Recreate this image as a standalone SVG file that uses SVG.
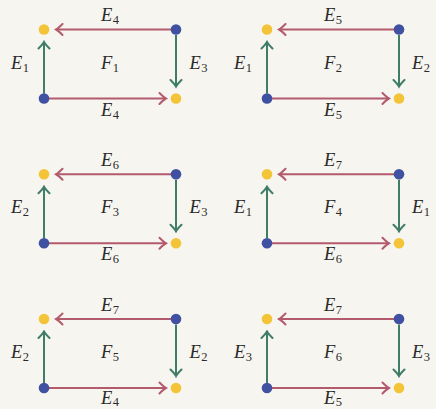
<svg xmlns="http://www.w3.org/2000/svg" width="436" height="409" viewBox="0 0 436 409">
<defs>
<style>
.bg{fill:#f7f5f0}
.b{fill:#3f51a0}
.y{fill:#f4c438}
.r{stroke:#b35a6d;stroke-width:2;fill:none}
.g{stroke:#3f7d69;stroke-width:2;fill:none}
text{font-family:"Liberation Serif","DejaVu Serif",serif;font-size:18.5px;fill:#2a2a2a;text-anchor:middle}
.m{font-style:italic}
.s{font-size:12.5px;font-style:normal}
</style>
<marker id="ar" viewBox="-8 -7 10 14" markerWidth="10" markerHeight="14" refX="0" refY="0" orient="auto" markerUnits="userSpaceOnUse">
<path d="M-6.5,-5.5 Q-2,-1 0,0 Q-2,1 -6.5,5.5" fill="none" stroke="#b35a6d" stroke-width="2" stroke-linecap="round"/>
</marker>
<marker id="ag" viewBox="-8 -7 10 14" markerWidth="10" markerHeight="14" refX="0" refY="0" orient="auto" markerUnits="userSpaceOnUse">
<path d="M-6.5,-5.5 Q-2,-1 0,0 Q-2,1 -6.5,5.5" fill="none" stroke="#3f7d69" stroke-width="2" stroke-linecap="round"/>
</marker>
</defs>
<rect class="bg" width="436" height="409"/>
<g id="connectors">
<path class="r" d="M171 29.5H56" marker-end="url(#ar)"/>
<path class="r" d="M49 98.5H166" marker-end="url(#ar)"/>
<path class="g" d="M44 93.5V42" marker-end="url(#ag)"/>
<path class="g" d="M176 35V86.5" marker-end="url(#ag)"/>
<path class="r" d="M394 29.5H279" marker-end="url(#ar)"/>
<path class="r" d="M272 98.5H389" marker-end="url(#ar)"/>
<path class="g" d="M267 93.5V42" marker-end="url(#ag)"/>
<path class="g" d="M399 35V86.5" marker-end="url(#ag)"/>
<path class="r" d="M171 174.25H56" marker-end="url(#ar)"/>
<path class="r" d="M49 243.25H166" marker-end="url(#ar)"/>
<path class="g" d="M44 238.25V186.75" marker-end="url(#ag)"/>
<path class="g" d="M176 179.75V231.25" marker-end="url(#ag)"/>
<path class="r" d="M394 174.25H279" marker-end="url(#ar)"/>
<path class="r" d="M272 243.25H389" marker-end="url(#ar)"/>
<path class="g" d="M267 238.25V186.75" marker-end="url(#ag)"/>
<path class="g" d="M399 179.75V231.25" marker-end="url(#ag)"/>
<path class="r" d="M171 319H56" marker-end="url(#ar)"/>
<path class="r" d="M49 388H166" marker-end="url(#ar)"/>
<path class="g" d="M44 383V331.5" marker-end="url(#ag)"/>
<path class="g" d="M176 324.5V376" marker-end="url(#ag)"/>
<path class="r" d="M394 319H279" marker-end="url(#ar)"/>
<path class="r" d="M272 388H389" marker-end="url(#ar)"/>
<path class="g" d="M267 383V331.5" marker-end="url(#ag)"/>
<path class="g" d="M399 324.5V376" marker-end="url(#ag)"/>
</g>
<g id="panel1">
<circle id="p1tl" class="y" cx="44" cy="29.5" r="5.3"/>
<circle id="p1tr" class="b" cx="176" cy="29.5" r="5.3"/>
<circle id="p1bl" class="b" cx="44" cy="98.5" r="5.3"/>
<circle id="p1br" class="y" cx="176" cy="98.5" r="5.3"/>
<text x="110" y="21"><tspan class="m">E</tspan><tspan class="s" dx="0.5" dy="3">4</tspan></text>
<text x="110" y="115.5"><tspan class="m">E</tspan><tspan class="s" dx="0.5" dy="3">4</tspan></text>
<text x="20" y="68.5"><tspan class="m">E</tspan><tspan class="s" dx="0.5" dy="3">1</tspan></text>
<text x="198.5" y="68.5"><tspan class="m">E</tspan><tspan class="s" dx="0.5" dy="3">3</tspan></text>
<text x="110" y="68.5"><tspan class="m">F</tspan><tspan class="s" dx="0.5" dy="3">1</tspan></text>
</g>
<g id="panel2">
<circle id="p2tl" class="y" cx="267" cy="29.5" r="5.3"/>
<circle id="p2tr" class="b" cx="399" cy="29.5" r="5.3"/>
<circle id="p2bl" class="b" cx="267" cy="98.5" r="5.3"/>
<circle id="p2br" class="y" cx="399" cy="98.5" r="5.3"/>
<text x="333" y="21"><tspan class="m">E</tspan><tspan class="s" dx="0.5" dy="3">5</tspan></text>
<text x="333" y="115.5"><tspan class="m">E</tspan><tspan class="s" dx="0.5" dy="3">5</tspan></text>
<text x="243" y="68.5"><tspan class="m">E</tspan><tspan class="s" dx="0.5" dy="3">1</tspan></text>
<text x="421" y="68.5"><tspan class="m">E</tspan><tspan class="s" dx="0.5" dy="3">2</tspan></text>
<text x="333" y="68.5"><tspan class="m">F</tspan><tspan class="s" dx="0.5" dy="3">2</tspan></text>
</g>
<g id="panel3">
<circle id="p3tl" class="y" cx="44" cy="174.25" r="5.3"/>
<circle id="p3tr" class="b" cx="176" cy="174.25" r="5.3"/>
<circle id="p3bl" class="b" cx="44" cy="243.25" r="5.3"/>
<circle id="p3br" class="y" cx="176" cy="243.25" r="5.3"/>
<text x="110" y="165.75"><tspan class="m">E</tspan><tspan class="s" dx="0.5" dy="3">6</tspan></text>
<text x="110" y="260.25"><tspan class="m">E</tspan><tspan class="s" dx="0.5" dy="3">6</tspan></text>
<text x="20" y="213.25"><tspan class="m">E</tspan><tspan class="s" dx="0.5" dy="3">2</tspan></text>
<text x="198.5" y="213.25"><tspan class="m">E</tspan><tspan class="s" dx="0.5" dy="3">3</tspan></text>
<text x="110" y="213.25"><tspan class="m">F</tspan><tspan class="s" dx="0.5" dy="3">3</tspan></text>
</g>
<g id="panel4">
<circle id="p4tl" class="y" cx="267" cy="174.25" r="5.3"/>
<circle id="p4tr" class="b" cx="399" cy="174.25" r="5.3"/>
<circle id="p4bl" class="b" cx="267" cy="243.25" r="5.3"/>
<circle id="p4br" class="y" cx="399" cy="243.25" r="5.3"/>
<text x="333" y="165.75"><tspan class="m">E</tspan><tspan class="s" dx="0.5" dy="3">7</tspan></text>
<text x="333" y="260.25"><tspan class="m">E</tspan><tspan class="s" dx="0.5" dy="3">6</tspan></text>
<text x="243" y="213.25"><tspan class="m">E</tspan><tspan class="s" dx="0.5" dy="3">1</tspan></text>
<text x="421" y="213.25"><tspan class="m">E</tspan><tspan class="s" dx="0.5" dy="3">1</tspan></text>
<text x="333" y="213.25"><tspan class="m">F</tspan><tspan class="s" dx="0.5" dy="3">4</tspan></text>
</g>
<g id="panel5">
<circle id="p5tl" class="y" cx="44" cy="319" r="5.3"/>
<circle id="p5tr" class="b" cx="176" cy="319" r="5.3"/>
<circle id="p5bl" class="b" cx="44" cy="388" r="5.3"/>
<circle id="p5br" class="y" cx="176" cy="388" r="5.3"/>
<text x="110" y="310.5"><tspan class="m">E</tspan><tspan class="s" dx="0.5" dy="3">7</tspan></text>
<text x="110" y="403.5"><tspan class="m">E</tspan><tspan class="s" dx="0.5" dy="2.5">4</tspan></text>
<text x="20" y="358"><tspan class="m">E</tspan><tspan class="s" dx="0.5" dy="3">2</tspan></text>
<text x="198.5" y="358"><tspan class="m">E</tspan><tspan class="s" dx="0.5" dy="3">2</tspan></text>
<text x="110" y="358"><tspan class="m">F</tspan><tspan class="s" dx="0.5" dy="3">5</tspan></text>
</g>
<g id="panel6">
<circle id="p6tl" class="y" cx="267" cy="319" r="5.3"/>
<circle id="p6tr" class="b" cx="399" cy="319" r="5.3"/>
<circle id="p6bl" class="b" cx="267" cy="388" r="5.3"/>
<circle id="p6br" class="y" cx="399" cy="388" r="5.3"/>
<text x="333" y="310.5"><tspan class="m">E</tspan><tspan class="s" dx="0.5" dy="3">7</tspan></text>
<text x="333" y="403.5"><tspan class="m">E</tspan><tspan class="s" dx="0.5" dy="2.5">5</tspan></text>
<text x="243" y="358"><tspan class="m">E</tspan><tspan class="s" dx="0.5" dy="3">3</tspan></text>
<text x="421" y="358"><tspan class="m">E</tspan><tspan class="s" dx="0.5" dy="3">3</tspan></text>
<text x="333" y="358"><tspan class="m">F</tspan><tspan class="s" dx="0.5" dy="3">6</tspan></text>
</g>
</svg>
